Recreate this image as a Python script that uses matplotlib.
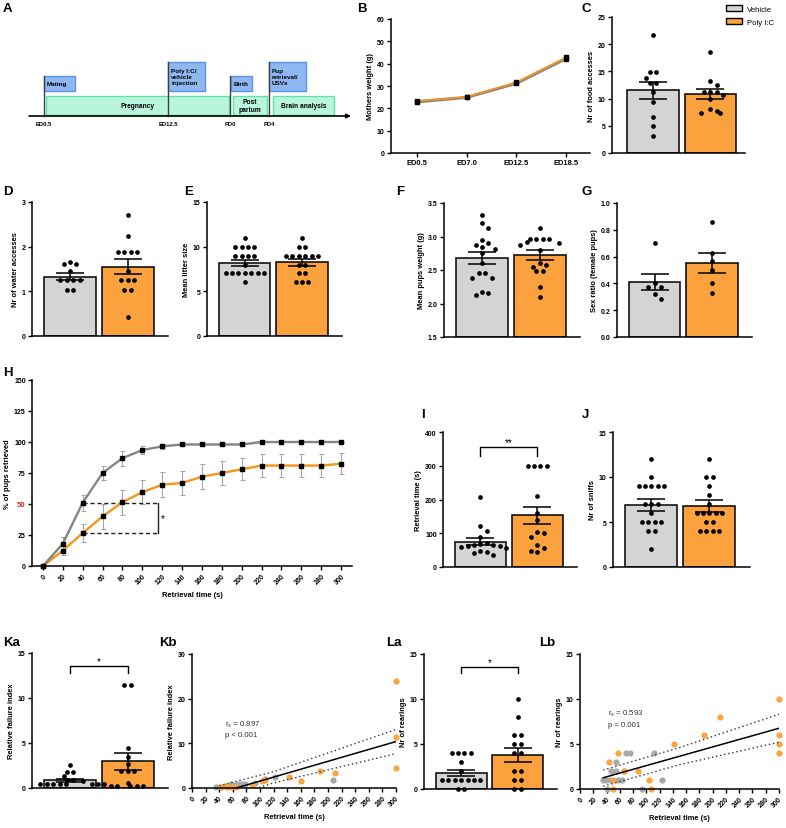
import numpy as np
import matplotlib
matplotlib.use("Agg")
import matplotlib.pyplot as plt
from matplotlib.patches import Rectangle, Patch

plt.rcParams['font.family'] = ['Liberation Sans', 'DejaVu Sans']
plt.rcParams['font.weight'] = 'bold'
plt.rcParams['axes.labelweight'] = 'bold'
plt.rcParams['mathtext.default'] = 'regular'

# ---------------- data ----------------
groups = ["Vehicle", "Poly I:C"]

A_events = ["ED0.5", "ED12.5", "PD0", "PD4"]
A_blue = ["Mating", "Poly I:C/\nvehicle\ninjection", "Birth", "Pup\nretrieval/\nUSVs"]
A_green = ["Pregnancy", "Post\npartum", "Brain analysis"]

B_days = ["ED0.5", "ED7.0", "ED12.5", "ED18.5"]
B_veh = [22.9, 24.9, 31.2, 42.3]
B_veh_sem = [0.5, 0.4, 0.5, 0.7]
B_pic = [23.3, 25.1, 31.6, 42.8]
B_pic_sem = [0.5, 0.4, 0.5, 0.7]

C_veh = [21.7, 14.8, 14.8, 13.8, 12.9, 12.9, 11.3, 9.3, 6.7, 5.0, 3.2]
C_pic = [18.5, 13.2, 12.5, 11.3, 11.3, 11.3, 10.6, 10.0, 8.0, 7.8, 7.4, 7.4]
C_mean = [11.5, 10.8]
C_sem = [1.6, 0.9]

D_veh = [1.65, 1.62, 1.62, 1.45, 1.25, 1.25, 1.25, 1.25, 1.02, 1.02]
D_pic = [2.7, 2.25, 1.87, 1.87, 1.87, 1.87, 1.45, 1.25, 1.25, 1.25, 1.03, 1.03, 0.42]
D_mean = [1.33, 1.55]
D_sem = [0.07, 0.165]

E_veh = [11, 10, 10, 10, 10, 9, 9, 9, 9, 8, 7, 7, 7, 7, 7, 7, 7, 6]
E_pic = [11, 10, 10, 9, 9, 9, 9, 9, 9, 8, 8, 7, 7, 6, 6, 6]
E_mean = [8.2, 8.25]
E_sem = [0.35, 0.4]

F_veh = [3.32, 3.2, 3.12, 2.95, 2.9, 2.88, 2.85, 2.82, 2.75, 2.6, 2.45, 2.45,
         2.38, 2.38, 2.17, 2.15, 2.12]
F_pic = [3.12, 2.97, 2.97, 2.97, 2.97, 2.92, 2.9, 2.88, 2.8, 2.6, 2.58, 2.55,
         2.48, 2.48, 2.25, 2.1]
F_mean = [2.68, 2.72]
F_sem = [0.09, 0.075]

G_veh = [0.7, 0.4, 0.37, 0.37, 0.32, 0.28]
G_pic = [0.86, 0.63, 0.57, 0.5, 0.4, 0.33]
G_mean = [0.41, 0.55]
G_sem = [0.06, 0.075]

H_time = [0, 20, 40, 60, 80, 100, 120, 140, 160, 180, 200, 220, 240, 260, 280, 300]
H_veh = [0, 18, 51, 75, 87, 93.5, 96.5, 98, 98, 98, 98, 100, 100, 100, 100, 100]
H_veh_sem = [0, 5, 6.5, 6, 6, 3.5, 2, 1, 1, 1, 1, 0, 0, 0, 0, 0]
H_pic = [0, 12.5, 26.5, 40, 51.5, 59.5, 65.5, 67, 72, 75, 78, 81, 81, 81, 81, 82.5]
H_pic_sem = [0, 4, 7, 10, 10, 9.5, 10, 10, 10, 9.5, 9, 9, 9, 9, 9, 8.5]
H_half_veh = 51
H_half_pic = 26.5
H_t_start = 40
H_t_end = 116

I_veh = [207, 122, 108, 90, 72, 68, 66, 64, 63, 62, 58, 55, 48, 45, 42, 35]
I_pic = [300, 300, 300, 300, 210, 160, 140, 105, 102, 88, 65, 57, 48, 43]
I_mean = [75, 153]
I_sem = [9.5, 25]

J_veh = [12, 10, 9, 9, 9, 9, 9, 7, 7, 7, 6, 5, 5, 5, 5, 4, 4, 2]
J_pic = [12, 10, 10, 9, 8, 7, 6, 6, 6, 6, 6, 5, 5, 4, 4, 4, 4]
J_mean = [6.9, 6.8]
J_sem = [0.67, 0.65]

Ka_veh = [2.6, 1.8, 1.8, 1.3, 0.85, 0.85, 0.8, 0.5, 0.5, 0.5, 0.5, 0.5, 0.5, 0.5, 0.5]
Ka_pic = [11.5, 11.5, 4.5, 3.5, 2.7, 1.9, 1.9, 1.9, 0.55, 0.2, 0.2, 0.2, 0.2, 0.2]
Ka_mean = [0.85, 2.95]
Ka_sem = [0.15, 0.97]

Kb_veh_x = [35, 42, 58, 62, 68, 72, 78, 92, 108, 122, 207]
Kb_veh_y = [0.2, 0.3, 1.0, 0.6, 0.8, 0.8, 1.0, 1.2, 2.0, 2.5, 1.7]
Kb_pic_x = [43, 48, 52, 57, 65, 88, 103, 107, 143, 160, 188, 210, 300, 300, 300]
Kb_pic_y = [0.2, 0.5, 0.3, 0.2, 0.3, 0.6, 1.6, 1.9, 2.4, 1.6, 3.8, 3.4, 24, 11.5, 4.5]
Kb_fit_x = [40, 300]
Kb_fit_y = [-1.1, 10.4]
Kb_up_x = [40, 120, 300]
Kb_up_y = [0.5, 3.65, 13.1]
Kb_lo_x = [40, 120, 300]
Kb_lo_y = [-2.7, 1.15, 7.7]
Kb_text = "r$_{s}$ = 0.897\np < 0.001"

La_veh = [4, 4, 4, 4, 3, 2, 1, 1, 1, 1, 1, 1, 1, 0, 0]
La_pic = [10, 8, 6, 6, 5, 5, 4, 4, 2, 2, 1, 1, 0, 0]
La_mean = [1.8, 3.8]
La_sem = [0.35, 0.75]

Lb_veh_x = [35, 39, 41, 45, 47, 55, 55, 57, 63, 66, 69, 76, 93, 112, 123]
Lb_veh_y = [1, 1, 0, 1, 2, 3, 2, 1, 1, 2, 4, 4, 0, 4, 1]
Lb_pic_x = [44, 49, 49, 57, 66, 87, 104, 107, 142, 187, 211, 300, 300, 300, 300]
Lb_pic_y = [3, 1, 0, 4, 2, 2, 1, 0, 5, 6, 8, 10, 6, 5, 4]
Lb_fit_x = [35, 300]
Lb_fit_y = [1.25, 6.75]
Lb_up_x = [35, 150, 300]
Lb_up_y = [2.1, 4.6, 8.3]
Lb_lo_x = [35, 150, 300]
Lb_lo_y = [0.3, 2.7, 5.2]
Lb_text = "r$_{s}$ = 0.593\np = 0.001"

# ---------------- style ----------------
GRAY = '#D4D4D4'
ORANGE = '#FBA23E'
SC_GRAY = '#A8A8A8'
SC_OR = '#F9A540'
LINE_GRAY = '#858585'
LINE_OR = '#F7941D'
TICK_FS = 5.0
LAB_FS = 5.4
LET_FS = 9.5

W, HH = 786, 829
fig = plt.figure(figsize=(W / 100, HH / 100), dpi=100)


def rect(l, t, r, b):
    return [l / W, 1 - b / HH, (r - l) / W, (b - t) / HH]


def style_axes(ax):
    for s in ['top', 'right']:
        ax.spines[s].set_visible(False)
    for s in ['left', 'bottom']:
        ax.spines[s].set_linewidth(1.1)
    ax.tick_params(axis='both', direction='out', length=3, width=1.0,
                   labelsize=TICK_FS, pad=1.5)


def swarm(vals, ax_w, ax_h, xlim, ylim, d_px=6.4):
    vals = np.asarray(vals, float)
    ppy = ax_h / (ylim[1] - ylim[0])
    ppx = ax_w / (xlim[1] - xlim[0])
    order = np.argsort(-vals, kind='stable')
    cands = [0.0]
    for j in range(1, 30):
        cands += [j * d_px, -j * d_px]
    placed = []
    offs = np.zeros(len(vals))
    for i in order:
        y = (vals[i] - ylim[0]) * ppy
        for c in cands:
            if all((c - px) ** 2 + (y - py) ** 2 >= (d_px * 0.97) ** 2 for px, py in placed):
                break
        placed.append((c, y))
        offs[i] = c
    # recenter rows of identical value
    for v in np.unique(vals):
        m = vals == v
        if m.sum() > 1:
            offs[m] -= offs[m].mean()
    return offs / ppx


def bar_panel(l, t, r, b, ylim, yticks, ylabel, veh, pic, means, sems,
              xlim=(-0.66, 1.7), sig=None):
    ax = fig.add_axes(rect(l, t, r, b))
    style_axes(ax)
    ax.set_xlim(*xlim)
    ax.set_ylim(*ylim)
    base = ylim[0]
    ax.bar([0, 1], [m - base for m in means], bottom=base, width=0.9,
           color=[GRAY, ORANGE], edgecolor='black', linewidth=1.1, zorder=1)
    ax.errorbar([0, 1], means, yerr=sems, fmt='none', ecolor='black',
                elinewidth=1.1, capsize=10, capthick=1.1, zorder=2)
    for xc, pts in zip([0, 1], [veh, pic]):
        offs = swarm(pts, r - l, b - t, xlim, ylim)
        ax.plot(xc + offs, pts, 'o', color='black', ms=3.4, mew=0,
                zorder=3, clip_on=False)
    ax.set_xticks([])
    ax.set_yticks(yticks)
    ax.set_ylabel(ylabel, fontsize=LAB_FS, labelpad=2)
    if sig is not None:
        ytop, ydrop, txt = sig
        ax.plot([0, 0, 1, 1], [ydrop, ytop, ytop, ydrop], color='black', lw=1.0,
                clip_on=False)
        ax.text(0.5, ytop, txt, ha='center', va='bottom', fontsize=7,
                fontweight='normal')
    return ax


# overlay axes for panel A and letters
ax0 = fig.add_axes([0, 0, 1, 1])
ax0.set_xlim(0, W)
ax0.set_ylim(HH, 0)
ax0.axis('off')

letters = [("A", 3, 3), ("B", 357, 3), ("C", 581, 3), ("D", 3, 186), ("E", 184, 186),
           ("F", 396, 186), ("G", 582, 186), ("H", 3, 367), ("I", 421, 409),
           ("J", 582, 409), ("Ka", 3, 637), ("Kb", 159, 637), ("La", 386, 637),
           ("Lb", 539, 637)]
for txt, x, y in letters:
    ax0.text(x, y, txt, fontsize=LET_FS, fontweight='bold', ha='left', va='top')

# ---- Panel A timeline ----
ev_x = [44, 168, 230, 269]
axis_y = 117
ax0.annotate('', xy=(351, axis_y), xytext=(29, axis_y),
             arrowprops=dict(arrowstyle='-|>', color='black', lw=1.2,
                             mutation_scale=6, shrinkA=0, shrinkB=0))
blue_boxes = [(44, 77, 75, 92), (168, 63, 205, 92), (231, 77, 252, 92), (269, 63, 306, 92)]
green_boxes = [(46, 97, 229, 116), (233, 97, 267, 116), (273, 97, 334, 116)]
for (x1, y1, x2, y2), txt in zip(green_boxes, A_green):
    ax0.add_patch(Rectangle((x1, y1), x2 - x1, y2 - y1, facecolor='#B9F4DC',
                            edgecolor='#5EE3A6', lw=1.0))
    ax0.text((x1 + x2) / 2, (y1 + y2) / 2, txt, ha='center', va='center',
             fontsize=4.8, linespacing=1.15)
for (x1, y1, x2, y2), txt in zip(blue_boxes, A_blue):
    ax0.add_patch(Rectangle((x1, y1), x2 - x1, y2 - y1, facecolor='#8FB8F2',
                            edgecolor='#5B94E6', lw=1.0))
    ax0.text(x1 + 3, (y1 + y2) / 2, txt, ha='left', va='center',
             fontsize=4.6, linespacing=1.2)
for x, (x1, y1, x2, y2), lab in zip(ev_x, blue_boxes, A_events):
    ax0.plot([x, x], [axis_y, y1], color='#404040', lw=1.0)
    ax0.text(x, 122, lab, ha='center', va='top', fontsize=4.2)

# ---- Panel B ----
axB = fig.add_axes(rect(391, 20, 590, 154))
style_axes(axB)
xb = np.arange(len(B_days))
axB.errorbar(xb, B_veh, yerr=B_veh_sem, color=LINE_GRAY, lw=2.2, ecolor='black',
             elinewidth=0.8, capsize=1.5, marker='s', ms=2.6, mfc='black', mec='black',
             zorder=2)
axB.errorbar(xb, B_pic, yerr=B_pic_sem, color=LINE_OR, lw=1.3, ecolor='black',
             elinewidth=0.8, capsize=1.5, marker='s', ms=2.6, mfc='black', mec='black',
             zorder=3)
axB.set_xlim(-0.52, 3.48)
axB.set_ylim(0, 60)
axB.set_yticks(range(0, 61, 10))
axB.set_xticks(xb)
axB.set_xticklabels(B_days, fontsize=5.4)
axB.set_ylabel("Mothers weight (g)", fontsize=LAB_FS, labelpad=2)

# ---- Bar panels ----
bar_panel(612, 18, 745, 154, (0, 25), range(0, 26, 5), "Nr of food accesses",
          C_veh, C_pic, C_mean, C_sem, xlim=(-0.71, 1.6))
bar_panel(32, 203, 168, 337, (0, 3), [0, 1, 2, 3], "Nr of water accesses",
          D_veh, D_pic, D_mean, D_sem)
bar_panel(207, 203, 342, 337, (0, 15), [0, 5, 10, 15], "Mean litter size",
          E_veh, E_pic, E_mean, E_sem)
bar_panel(444, 204, 580, 338, (1.5, 3.5), [1.5, 2.0, 2.5, 3.0, 3.5],
          "Mean pups weight (g)", F_veh, F_pic, F_mean, F_sem)
axG = bar_panel(617, 204, 752, 338, (0, 1.0), [0, 0.2, 0.4, 0.6, 0.8, 1.0],
                "Sex ratio (female pups)", G_veh, G_pic, G_mean, G_sem)
axG.set_yticklabels(["0.0", "0.2", "0.4", "0.6", "0.8", "1.0"])

# legend
fig.legend(handles=[Patch(facecolor=GRAY, edgecolor='black', lw=1.0),
                    Patch(facecolor=ORANGE, edgecolor='black', lw=1.0)],
           labels=groups, loc='upper left', bbox_to_anchor=(721 / W, 1 - 1 / HH),
           frameon=False, prop={'size': 5.6, 'weight': 'normal'},
           handlelength=2.0, handleheight=0.75, labelspacing=0.65, borderpad=0.2,
           handletextpad=0.6)

# ---- Panel H ----
axH = fig.add_axes(rect(32, 381, 352, 567))
style_axes(axH)
axH.errorbar(H_time, H_pic, yerr=H_pic_sem, fmt='none', ecolor='#A6A6A6',
             elinewidth=0.8, capsize=1.8, capthick=0.8, zorder=1)
axH.errorbar(H_time, H_veh, yerr=H_veh_sem, fmt='none', ecolor='#A6A6A6',
             elinewidth=0.8, capsize=1.8, capthick=0.8, zorder=1)
axH.plot(H_time, H_pic, color=LINE_OR, lw=1.7, marker='s', ms=2.4, mfc='black',
         mec='black', zorder=3, clip_on=False)
axH.plot(H_time, H_veh, color=LINE_GRAY, lw=1.7, marker='s', ms=2.4, mfc='black',
         mec='black', zorder=3, clip_on=False)
axH.plot([H_t_start, H_t_end], [H_half_veh, H_half_veh], color='#222222', lw=1.0,
         ls=(0, (3, 2)), zorder=2)
axH.plot([H_t_start, H_t_end], [H_half_pic, H_half_pic], color='#222222', lw=1.0,
         ls=(0, (3, 2)), zorder=2)
axH.plot([H_t_end, H_t_end], [H_half_pic, H_half_veh], color='#222222', lw=1.0, zorder=2)
axH.text(H_t_end + 3, (H_half_pic + H_half_veh) / 2, "*", fontsize=7,
         fontweight='normal', va='center', ha='left')
axH.set_xlim(-11, 311)
axH.set_ylim(0, 150)
axH.set_yticks(range(0, 151, 25))
axH.set_xticks(H_time)
axH.set_xticklabels([str(t) for t in H_time], rotation=45, ha='right',
                    rotation_mode='anchor')
for lab in axH.get_yticklabels():
    if lab.get_text() == '50':
        lab.set_color('#E8202A')
        lab.set_fontsize(5.6)
axH.set_ylabel("% of pups retrieved", fontsize=LAB_FS, labelpad=2)
axH.set_xlabel("Retrieval time (s)", fontsize=LAB_FS, labelpad=4)

# ---- Panel I, J ----
bar_panel(443, 433, 577, 568, (0, 400), [0, 100, 200, 300, 400], "Retrieval time (s)",
          I_veh, I_pic, I_mean, I_sem, sig=(355, 330, "**"))
bar_panel(613, 433, 750, 568, (0, 15), [0, 5, 10, 15], "Nr of sniffs",
          J_veh, J_pic, J_mean, J_sem)

# ---- Panel Ka, La ----
bar_panel(32, 654, 168, 789, (0, 15), [0, 5, 10, 15], "Relative failure index",
          Ka_veh, Ka_pic, Ka_mean, Ka_sem, sig=(13.6, 12.8, "*"))
bar_panel(424, 655, 557, 790, (0, 15), [0, 5, 10, 15], "Nr of rearings",
          La_veh, La_pic, La_mean, La_sem, sig=(13.6, 12.9, "*"))


# ---- correlation panels ----
def corr_panel(l, t, r, b, ylim, yticks, ylabel, vx, vy, px_, py_, fx, fy,
               ux, uy, lx, ly, txt, txt_xy):
    ax = fig.add_axes(rect(l, t, r, b))
    style_axes(ax)
    ax.set_xlim(0, 300)
    ax.set_ylim(*ylim)
    ax.scatter(vx, vy, s=20, color=SC_GRAY, lw=0, zorder=2, clip_on=False)
    ax.scatter(px_, py_, s=20, color=SC_OR, lw=0, zorder=2, clip_on=False)
    ax.plot(fx, fy, color='black', lw=1.1, zorder=3)
    ax.plot(ux, uy, color='#333333', lw=1.0, ls=(0, (1, 2)), zorder=3)
    ax.plot(lx, ly, color='#333333', lw=1.0, ls=(0, (1, 2)), zorder=3)
    ax.set_xticks(range(0, 301, 20))
    ax.set_xticklabels([str(v) for v in range(0, 301, 20)], rotation=45,
                       ha='right', rotation_mode='anchor')
    ax.set_yticks(yticks)
    ax.set_ylabel(ylabel, fontsize=LAB_FS, labelpad=2)
    ax.set_xlabel("Retrieval time (s)", fontsize=LAB_FS, labelpad=4)
    ax.text(txt_xy[0], txt_xy[1], txt, transform=ax.transAxes, fontsize=5.6,
            fontweight='normal', color='#333333', va='top', ha='left',
            linespacing=1.5)
    return ax


corr_panel(192, 655, 396, 789, (0, 30), [0, 10, 20, 30], "Relative failure index",
           Kb_veh_x, Kb_veh_y, Kb_pic_x, Kb_pic_y, Kb_fit_x, Kb_fit_y,
           Kb_up_x, Kb_up_y, Kb_lo_x, Kb_lo_y, Kb_text, (0.16, 0.52))
corr_panel(580, 655, 779, 790, (0, 15), [0, 5, 10, 15], "Nr of rearings",
           Lb_veh_x, Lb_veh_y, Lb_pic_x, Lb_pic_y, Lb_fit_x, Lb_fit_y,
           Lb_up_x, Lb_up_y, Lb_lo_x, Lb_lo_y, Lb_text, (0.14, 0.6))

fig.savefig("out.png", dpi=100)
